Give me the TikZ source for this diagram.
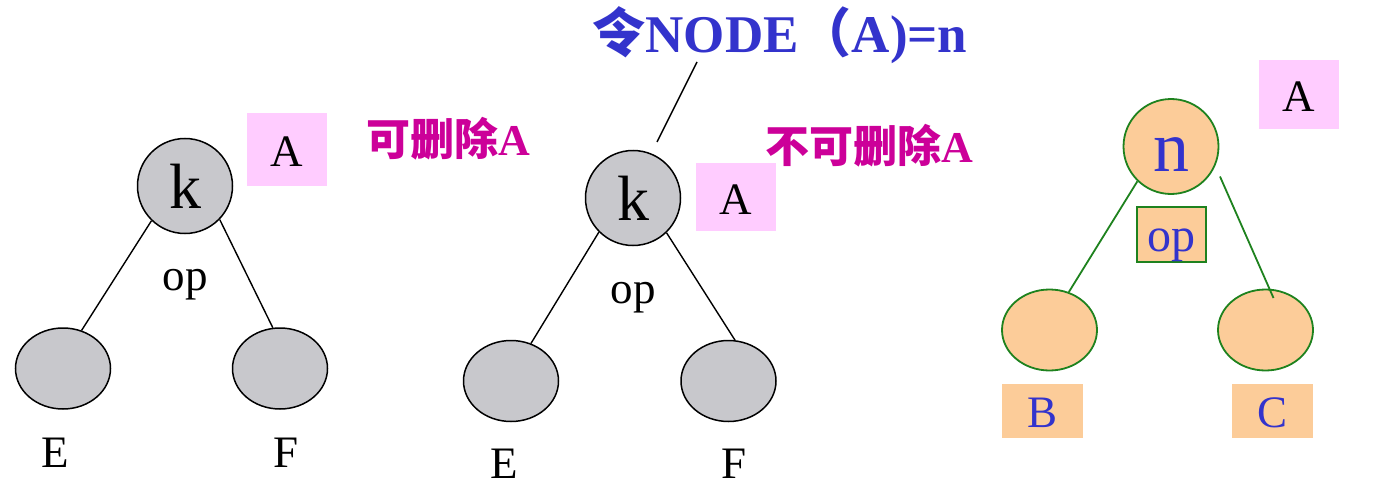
\documentclass[tikz,border=0pt]{standalone}
\usepackage{fontspec}
\setmainfont{Liberation Serif}
\newfontfamily\cjk{Noto Sans CJK SC}
\usetikzlibrary{shapes.geometric}
\definecolor{nodegray}{RGB}{200,200,204}
\definecolor{boxpink}{RGB}{255,204,255}
\definecolor{peach}{RGB}{252,204,153}
\definecolor{treegreen}{RGB}{30,130,30}
\definecolor{textblue}{RGB}{51,51,204}
\definecolor{notemagenta}{RGB}{204,0,153}
\newcommand{\lblfont}{\fontsize{45}{54}\selectfont}
\newcommand{\notefont}{\fontsize{44}{50}\selectfont\bfseries}

\begin{document}
\begin{tikzpicture}[x=1pt,y=-1pt,
    root/.style={circle,draw,line width=1.5pt,fill=nodegray,minimum size=95pt,inner sep=0pt,font=\fontsize{64}{70}\selectfont},
    leaf/.style={ellipse,draw,line width=1.5pt,fill=nodegray,minimum width=95pt,minimum height=81pt,inner sep=0pt},
    abox/.style={fill=boxpink,inner sep=0pt,minimum width=80pt,text height=51pt,text depth=17pt,font=\lblfont},
    lbl/.style={anchor=base,inner sep=0pt,font=\lblfont},
    note/.style={anchor=base,inner sep=0pt,text=notemagenta,font=\notefont},
    edge/.style={line width=1.4pt},
    nroot/.style={root,fill=peach,draw=treegreen,line width=1.8pt,text=textblue,text height=49pt,font=\fontsize{72}{80}\selectfont},
    nleaf/.style={leaf,fill=peach,draw=treegreen,line width=1.8pt},
    opbox/.style={draw=treegreen,fill=peach,line width=1.8pt,inner sep=0pt,minimum width=69pt,text height=44pt,text depth=11pt,text=textblue,font=\fontsize{48}{54}\selectfont},
    cbox/.style={fill=peach,inner sep=0pt,minimum width=81pt,text height=43pt,text depth=11pt,text=textblue,font=\lblfont},
    gedge/.style={draw=treegreen,line width=1.8pt}
  ]
  \useasboundingbox (0,0) rectangle (1379,487);

  % Left tree: A can be deleted
  \node[root] (kL) at (185,186) {k};
  \node[leaf] (EL) at (63,368.5) {};
  \node[leaf] (FL) at (280,368.5) {};
  \draw[edge] (kL.226) -- (EL.64);
  \draw[edge] (kL.-44) -- (FL.100);
  \node[lbl] (opL) at (185,290) {op};
  \node[lbl] (eL) at (55,467) {E};
  \node[lbl] (fL) at (286,467) {F};
  \node[abox,minimum height=73pt] (aL) at (287,149.5) {A};
  \node[note] (delL) at (448.5,155) {{\cjk 可删除}A};

  % Middle tree: A cannot be deleted
  \node[root] (kM) at (633,198) {k};
  \node[leaf] (EM) at (511,381) {};
  \node[leaf] (FM) at (728.5,381) {};
  \draw[edge] (kM.225) -- (EM.62);
  \draw[edge] (kM.-46) -- (FM.81);
  \node[lbl] (opM) at (633,303) {op};
  \node[lbl] (eM) at (504,478) {E};
  \node[lbl] (fM) at (734,478) {F};
  \node[abox,minimum height=66pt] (aM) at (735.5,197) {A};
  \node[note] (delM) at (869,162) {{\cjk 不可删除}A};

  % Title and its pointer
  \node[anchor=base,inner sep=0pt,text=textblue,font=\fontsize{53}{60}\selectfont\bfseries] (title) at (780,53) {{\cjk 令}NODE{\cjk （}A)=n};
  \coordinate (tail) at (697,62);
  \draw[edge] (tail) -- ([shift={(24,-56)}]kM.center);

  % Right tree: NODE(A)=n
  \node[nroot] (n) at (1171,146.5) {n};
  \node[opbox,minimum height=55pt] (opR) at (1171.5,234.5) {op};
  \node[nleaf] (B) at (1049.5,330) {};
  \node[nleaf] (C) at (1265.5,330) {};
  \draw[gedge] (n.226) -- (B.63);
  \draw[gedge] ([shift={(49,30)}]n.center) -- ([shift={(8,-32)}]C.center);
  \node[cbox,minimum height=54pt] (bR) at (1042.5,411) {B};
  \node[cbox,minimum height=54pt] (cR) at (1272.5,411) {C};
  \node[abox,minimum height=67pt] (aR) at (1298.5,94.5) {A};
\end{tikzpicture}
\end{document}
